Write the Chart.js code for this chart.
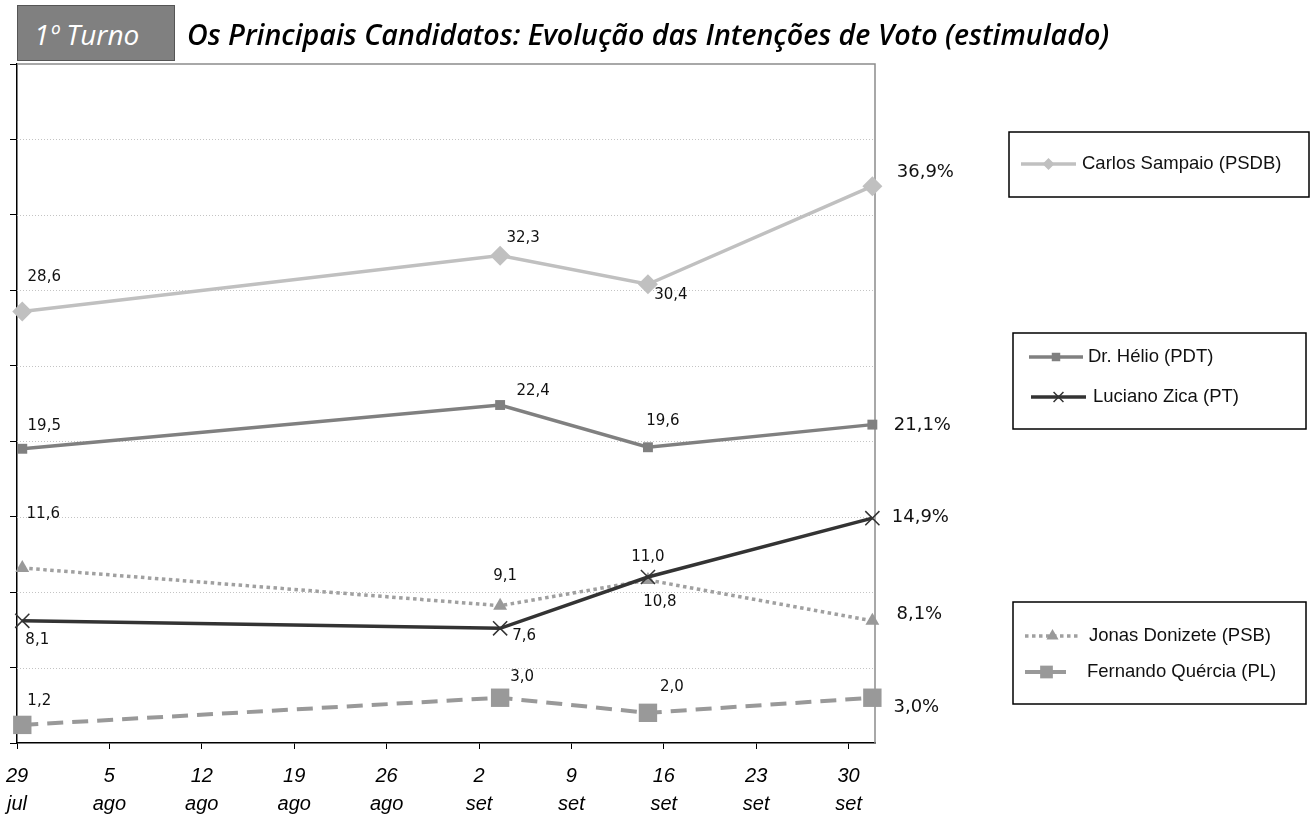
<!DOCTYPE html>
<html>
<head>
<meta charset="utf-8">
<script src="https://cdn.jsdelivr.net/npm/chart.js@4.4.1/dist/chart.umd.min.js"></script>
<style>
  body { margin: 0; background: #fff; }
  #wrap { position: relative; width: 1314px; height: 815px; }
  #turno {
    position: absolute; left: 17px; top: 5px; height: 54px; width: 140px;
    background: #808080; border: 1px solid #555;
    color: #fff; font: italic 28px "Open Sans", sans-serif;
    line-height: 56px; padding-left: 16px;
  }
  #titulo {
    position: absolute; left: 187px; top: 14px;
    font: italic 600 28.6px "Open Sans", sans-serif; color: #000; white-space: nowrap;
  }
</style>
</head>
<body>
<div id="wrap">
  <canvas id="grafico" width="1314" height="815"></canvas>
  <div id="turno">1º Turno</div>
  <div id="titulo">Os Principais Candidatos: Evolução das Intenções de Voto (estimulado)</div>
</div>
<script>
// dias contados a partir de 29 jul
const pollDays = [0.4, 36.6, 47.8, 64.8];
const candidatos = ['Carlos Sampaio (PSDB)', 'Dr. Hélio (PDT)', 'Luciano Zica (PT)', 'Jonas Donizete (PSB)', 'Fernando Quércia (PL)'];
const sampaio = [28.6, 32.3, 30.4, 36.9];
const helio = [19.5, 22.4, 19.6, 21.1];
const zica = [8.1, 7.6, 11.0, 14.9];
const donizete = [11.6, 9.1, 10.8, 8.1];
const quercia = [1.2, 3.0, 2.0, 3.0];
const tickDays = [0, 7, 14, 21, 28, 35, 42, 49, 56, 63];
const tickDia = ['29', '5', '12', '19', '26', '2', '9', '16', '23', '30'];
const tickMes = ['jul', 'ago', 'ago', 'ago', 'ago', 'set', 'set', 'set', 'set', 'set'];

// deslocamento dos rótulos (dx, dy) por série e ponto
const labelOffsets = [
    [[22, -34], [23, -18], [23, 11], [53, -14]],
    [[22, -23], [33, -14], [15, -26], [50, 1]],
    [[15, 19], [24, 8], [0, -20], [48, -1]],
    [[21, -54], [5, -30], [12, 22], [47, -6]],
    [[17, -24], [22, -21], [24, -26], [44, 10]]
];

const legendGroups = [
    { box: [1009, 132, 300, 65], items: [{ ds: 0, y: 164, x1: 1021, x2: 1076, tx: 1082 }] },
    { box: [1013, 333, 293, 96], items: [
        { ds: 1, y: 357, x1: 1029, x2: 1083, tx: 1088 },
        { ds: 2, y: 397, x1: 1031, x2: 1086, tx: 1093 }] },
    { box: [1013, 602, 293, 102], items: [
        { ds: 3, y: 636, x1: 1025, x2: 1080, tx: 1089 },
        { ds: 4, y: 672, x1: 1025, x2: 1068, tx: 1087 }] }
];
const legendMarkerSize = [6, 6, 7, 7, 9];

function pts(vals) {
    return vals.map((v, i) => ({ x: pollDays[i], y: v }));
}

function fmt(v) {
    return v.toFixed(1).replace('.', ',');
}

function drawMarker(ctx, style, x, y, r) {
    ctx.beginPath();
    if (style === 'rectRot') {
        ctx.moveTo(x, y - r); ctx.lineTo(x + r, y); ctx.lineTo(x, y + r); ctx.lineTo(x - r, y); ctx.closePath(); ctx.fill();
    } else if (style === 'rect') {
        ctx.rect(x - r * 0.707, y - r * 0.707, r * 1.414, r * 1.414); ctx.fill();
    } else if (style === 'triangle') {
        ctx.moveTo(x, y - r); ctx.lineTo(x + r * 0.866, y + r * 0.5); ctx.lineTo(x - r * 0.866, y + r * 0.5); ctx.closePath(); ctx.fill();
    } else if (style === 'crossRot') {
        const d = r * 0.707;
        ctx.moveTo(x - d, y - d); ctx.lineTo(x + d, y + d);
        ctx.moveTo(x + d, y - d); ctx.lineTo(x - d, y + d);
        ctx.lineWidth = 1.5; ctx.stroke();
    }
}

const extras = {
    id: 'extras',
    beforeDatasetsDraw(chart) {
        const { ctx, chartArea: a, scales: { y } } = chart;
        ctx.save();
        ctx.strokeStyle = '#c4c4c4';
        ctx.lineWidth = 1;
        ctx.setLineDash([1, 2]);
        y.ticks.forEach(t => {
            if (t.value <= y.min || t.value >= y.max) return;
            const py = Math.round(y.getPixelForValue(t.value)) + 0.5;
            ctx.beginPath(); ctx.moveTo(a.left, py); ctx.lineTo(a.right, py); ctx.stroke();
        });
        ctx.setLineDash([]);
        ctx.strokeStyle = '#8c8c8c';
        ctx.lineWidth = 1.5;
        ctx.beginPath();
        ctx.moveTo(a.left, a.top); ctx.lineTo(a.right, a.top); ctx.lineTo(a.right, a.bottom);
        ctx.stroke();
        ctx.restore();
    },
    afterDatasetsDraw(chart) {
        const ctx = chart.ctx;
        ctx.save();
        ctx.fillStyle = '#111';
        ctx.textAlign = 'center';
        ctx.textBaseline = 'middle';
        chart.data.datasets.forEach((ds, di) => {
            const meta = chart.getDatasetMeta(di);
            meta.data.forEach((p, i) => {
                const last = i === meta.data.length - 1;
                ctx.font = last ? '18px "DejaVu Sans"' : '15px "DejaVu Sans"';
                const txt = fmt(ds.data[i].y) + (last ? '%' : '');
                const off = labelOffsets[di][i];
                ctx.fillText(txt, p.x + off[0], p.y + off[1]);
            });
        });
        ctx.restore();
    },
    afterDraw(chart) {
        const ctx = chart.ctx;
        ctx.save();
        legendGroups.forEach(g => {
            ctx.strokeStyle = '#000';
            ctx.lineWidth = 1.5;
            ctx.setLineDash([]);
            ctx.strokeRect(g.box[0], g.box[1], g.box[2], g.box[3]);
            g.items.forEach(it => {
                const ds = chart.data.datasets[it.ds];
                ctx.strokeStyle = ds.borderColor;
                ctx.lineWidth = ds.borderWidth;
                ctx.setLineDash(ds.borderDash || []);
                ctx.beginPath(); ctx.moveTo(it.x1, it.y); ctx.lineTo(it.x2, it.y); ctx.stroke();
                ctx.setLineDash([]);
                ctx.fillStyle = ds.pointBackgroundColor;
                ctx.strokeStyle = ds.pointBorderColor;
                drawMarker(ctx, ds.pointStyle, (it.x1 + it.x2) / 2, it.y, legendMarkerSize[it.ds]);
                ctx.fillStyle = '#111';
                ctx.font = '18.5px "Liberation Sans", Arial, sans-serif';
                ctx.textAlign = 'left';
                ctx.textBaseline = 'middle';
                ctx.fillText(candidatos[it.ds], it.tx, it.y);
            });
        });
        ctx.restore();
    }
};

new Chart(document.getElementById('grafico'), {
    type: 'line',
    data: {
        datasets: [
            { label: candidatos[0], data: pts(sampaio), borderColor: '#c0c0c0', borderWidth: 3.5,
              pointStyle: 'rectRot', pointRadius: 10, pointBackgroundColor: '#c0c0c0', pointBorderColor: '#c0c0c0', pointBorderWidth: 0 },
            { label: candidatos[1], data: pts(helio), borderColor: '#808080', borderWidth: 3.5,
              pointStyle: 'rect', pointRadius: 7, pointBackgroundColor: '#808080', pointBorderColor: '#808080', pointBorderWidth: 0 },
            { label: candidatos[2], data: pts(zica), borderColor: '#333333', borderWidth: 3.5,
              pointStyle: 'crossRot', pointRadius: 10, pointBackgroundColor: '#333333', pointBorderColor: '#333333', pointBorderWidth: 1.5 },
            { label: candidatos[3], data: pts(donizete), borderColor: '#a0a0a0', borderWidth: 3.5, borderDash: [3.5, 3.5],
              pointStyle: 'triangle', pointRadius: 8, pointBackgroundColor: '#999999', pointBorderColor: '#999999', pointBorderWidth: 0 },
            { label: candidatos[4], data: pts(quercia), borderColor: '#999999', borderWidth: 4, borderDash: [16, 9],
              pointStyle: 'rect', pointRadius: 13, pointBackgroundColor: '#999999', pointBorderColor: '#999999', pointBorderWidth: 0 }
        ]
    },
    options: {
        responsive: false,
        animation: false,
        clip: false,
        layout: { padding: { left: 10, right: 439, top: 64, bottom: -16 } },
        plugins: { legend: { display: false }, tooltip: { enabled: false } },
        elements: { line: { tension: 0 } },
        scales: {
            x: {
                type: 'linear', min: 0, max: 65,
                afterBuildTicks: axis => { axis.ticks = tickDays.map(v => ({ value: v })); },
                afterFit: axis => { axis.paddingLeft = 0; axis.paddingRight = 0; },
                grid: { drawOnChartArea: false, tickLength: 6, tickColor: '#000', tickWidth: 1 },
                border: { color: '#000', width: 1.5 },
                ticks: {
                    autoSkip: false, maxRotation: 0, padding: 13, color: '#000',
                    font: { family: '"Liberation Sans", Arial, sans-serif', size: 20, style: 'italic', lineHeight: 1.4 },
                    callback: (v, i) => [tickDia[i], tickMes[i]]
                }
            },
            y: {
                min: 0, max: 45,
                ticks: { display: false, stepSize: 5 },
                grid: { drawOnChartArea: false, tickLength: 7, tickColor: '#000', tickWidth: 1 },
                border: { color: '#000', width: 1.5 }
            }
        }
    },
    plugins: [extras]
});
</script>
</body>
</html>
